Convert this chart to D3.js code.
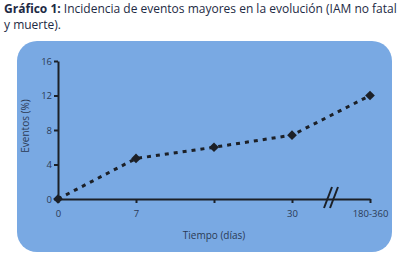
<!DOCTYPE html>
<html lang="es">
  <head>
    <meta charset="UTF-8" />
    <title>Gráfico 1</title>
    <style>
      body { margin: 0; background: #fff; }
      svg { display: block; font-family: "Open Sans", "Noto Sans", sans-serif; }
      .axis path, .axis line { stroke: #1c2027; stroke-width: 2px; }
      .axis text { fill: #2b3a55; font-size: 9.5px; font-family: "Open Sans", sans-serif; }
    </style>
  </head>
  <body>
    <script src="https://cdn.jsdelivr.net/npm/d3@7"></script>
    <script>
      // data
      var categories = ["0", "7", "14", "30", "180-360"];
      var tickLabels = ["0", "7", "", "30", "180-360"];
      var eventos = [0, 4.7, 6.0, 7.4, 12.0];
      var yTicks = [0, 4, 8, 12, 16];

      var w = 406, h = 258;
      var margin = { top: 61, right: 36, bottom: 59, left: 58 };

      var svg = d3.select("body").append("svg")
                  .attr("width", w)
                  .attr("height", h);

      // title
      var title = svg.append("text")
                     .attr("x", 4)
                     .attr("y", 12.5)
                     .attr("fill", "#1d2a44")
                     .style("font-size", "12px");
      title.append("tspan").attr("font-weight", "bold").text("Gráfico 1: ");
      title.append("tspan").text("Incidencia de eventos mayores en la evolución (IAM no fatal");
      svg.append("text")
         .attr("x", 4)
         .attr("y", 29)
         .attr("fill", "#1d2a44")
         .style("font-size", "12px")
         .text("y muerte).");

      // panel
      svg.append("rect")
         .attr("x", 17)
         .attr("y", 41)
         .attr("width", 375)
         .attr("height", 211)
         .attr("rx", 20)
         .attr("fill", "#79a9e3");

      var innerW = w - margin.left - margin.right;
      var innerH = h - margin.top - margin.bottom;

      var xScale = d3.scalePoint()
                     .domain(categories)
                     .range([0, innerW]);

      var yScale = d3.scaleLinear()
                     .domain([0, 16])
                     .range([innerH, 0]);

      var g = svg.append("g")
                 .attr("transform", "translate(" + margin.left + ", " + margin.top + ")");

      var xAxis = d3.axisBottom(xScale)
                    .tickSizeInner(4)
                    .tickSizeOuter(0)
                    .tickPadding(7)
                    .tickFormat(function(d, i) { return tickLabels[i]; });

      var yAxis = d3.axisLeft(yScale)
                    .tickValues(yTicks)
                    .tickSizeInner(4)
                    .tickSizeOuter(0)
                    .tickPadding(2);

      g.append("g")
       .attr("class", "axis")
       .attr("transform", "translate(0, " + innerH + ")")
       .call(xAxis);

      g.append("g")
       .attr("class", "axis")
       .call(yAxis);

      // axis break between 30 and 180-360
      var bx = (xScale("30") + xScale("180-360")) / 2;
      [-3, 3].forEach(function(off) {
        g.append("line")
         .attr("x1", bx + off - 4)
         .attr("y1", innerH + 9)
         .attr("x2", bx + off + 4)
         .attr("y2", innerH - 12)
         .attr("stroke", "#1c2027")
         .attr("stroke-width", 2);
      });

      // axis titles
      g.append("text")
       .attr("x", innerW / 2)
       .attr("y", innerH + 40)
       .attr("text-anchor", "middle")
       .attr("fill", "#2b3a55")
       .style("font-size", "10px")
       .text("Tiempo (días)");

      g.append("text")
       .attr("transform", "translate(-29, " + (innerH / 2 - 4) + ") rotate(-90)")
       .attr("text-anchor", "middle")
       .attr("fill", "#2b3a55")
       .style("font-size", "10px")
       .text("Eventos (%)");

      var line = d3.line()
                   .x(function(d, i) { return xScale(categories[i]); })
                   .y(function(d) { return yScale(d); });

      g.append("path")
       .datum(eventos)
       .attr("d", line)
       .attr("fill", "none")
       .attr("stroke", "#1c2027")
       .attr("stroke-width", 3)
       .attr("stroke-dasharray", "4,5");

      g.selectAll(".pt")
       .data(eventos)
       .enter()
       .append("path")
       .attr("class", "pt")
       .attr("d", d3.symbol().type(d3.symbolDiamond2).size(60))
       .attr("transform", function(d, i) {
         return "translate(" + xScale(categories[i]) + ", " + yScale(d) + ")";
       })
       .attr("fill", "#1c2027");
    </script>
  </body>
</html>
